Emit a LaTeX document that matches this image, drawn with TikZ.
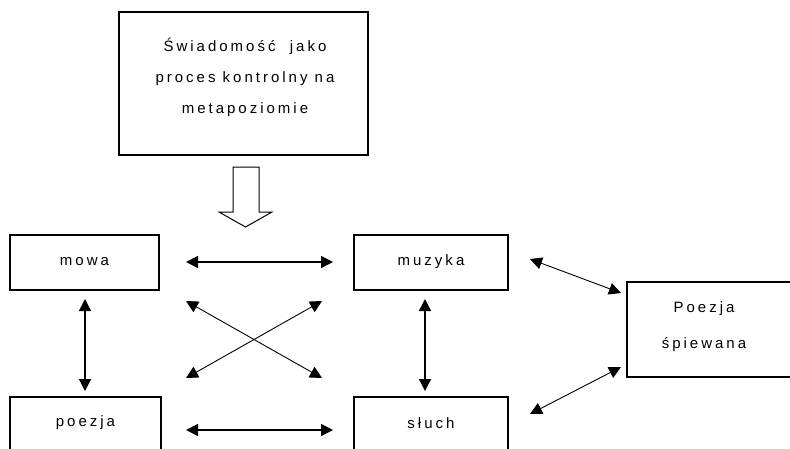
\documentclass[tikz,border=0pt]{standalone}
\usepackage{fontspec}
\setmainfont{Liberation Sans}[LetterSpace=20]
\usetikzlibrary{arrows.meta}
\begin{document}
\begin{tikzpicture}[x=1pt,y=-1pt,
  box/.style={draw,line width=1.3pt,inner sep=0pt},
  lbl/.style={font=\fontsize{15}{31}\selectfont,align=center,inner sep=0pt},
  tip/.style={Triangle[length=12pt,width=12pt]},
  link/.style={line width=1.3pt,{Triangle[length=12pt,width=12pt]}-{Triangle[length=12pt,width=12pt]}},
  thin link/.style={line width=0.9pt,{Triangle[length=12pt,width=12pt]}-{Triangle[length=12pt,width=12pt]}}]
\useasboundingbox (0,0) rectangle (790,448);
\clip (0,0) rectangle (790,448);
% boxes
\draw[box] (119,12) rectangle (368,155);
\node[lbl] (top) at (245,77) {Świadomość\ \ jako\\proces kontrolny na\\metapoziomie};
\draw[box] (10,235) rectangle (159,290);
\node[lbl] (mowa) at (84.5,262) {mowa};
\draw[box] (10,397) rectangle (161,470);
\node[lbl] (poezja) at (85.5,423) {poezja};
\draw[box] (354,235) rectangle (508,290);
\node[lbl] (muzyka) at (431,262) {muzyka};
\draw[box] (354,397) rectangle (508,470);
\node[lbl] (sluch) at (431,423) {słuch};
\draw[box] (627,282) rectangle (820,377);
\node[lbl,font=\fontsize{15}{36}\selectfont] (ps) at (704,327) {Poezja\\śpiewana};
% hollow arrow
\draw[line width=1pt] (233,167) -- (233,212) -- (219,212) -- (245.5,227) -- (272,212) -- (259,212) -- (259,167) -- cycle;
% connectors
\coordinate (a1) at (186,262); \coordinate (a2) at (333,262);
\draw[link] (a1) -- (a2);
\coordinate (b1) at (186,430); \coordinate (b2) at (333,430);
\draw[link] (b1) -- (b2);
\coordinate (c1) at (85,299); \coordinate (c2) at (85,391);
\draw[link] (c1) -- (c2);
\coordinate (d1) at (425,299); \coordinate (d2) at (425,391);
\draw[link] (d1) -- (d2);
\coordinate (e1) at (186,301); \coordinate (e2) at (322,378);
\draw[thin link] (e1) -- (e2);
\coordinate (f1) at (322,301); \coordinate (f2) at (186,378);
\draw[thin link] (f1) -- (f2);
\coordinate (g1) at (530,259); \coordinate (g2) at (621,293);
\draw[thin link] (g1) -- (g2);
\coordinate (h1) at (530,414); \coordinate (h2) at (621,367);
\draw[thin link] (h1) -- (h2);
\end{tikzpicture}
\end{document}
